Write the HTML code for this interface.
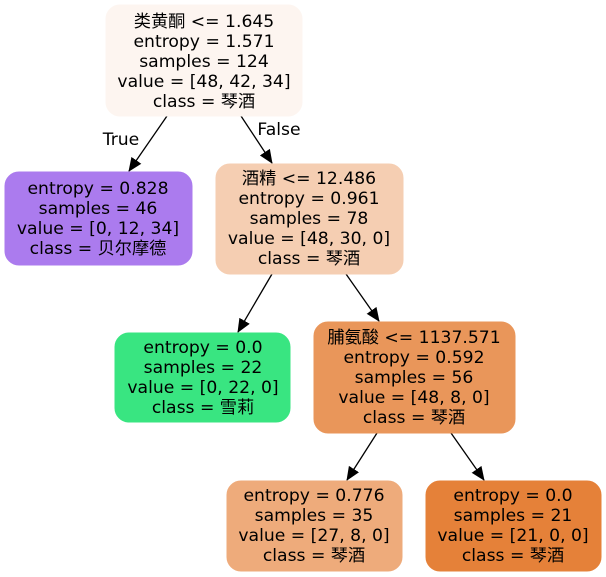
<!DOCTYPE html>
<html><head><meta charset="utf-8"><style>
html,body{margin:0;padding:0;background:#fff;width:606px;height:577px;overflow:hidden}
text{font-family:"DejaVu Sans","Noto Sans CJK SC",sans-serif;font-size:17.2px;fill:#000;text-anchor:middle}
</style></head><body>
<svg width="606" height="577" viewBox="0 0 606 577" xmlns="http://www.w3.org/2000/svg">
<defs><marker id="a" markerWidth="14" markerHeight="12" refX="13" refY="6" orient="auto" markerUnits="userSpaceOnUse"><path d="M0,0 L14,6 L0,12 z" fill="#000"/></marker></defs>
<g stroke="#000" stroke-width="1.3" fill="none">
<line x1="167" y1="116" x2="129" y2="171" marker-end="url(#a)"/>
<line x1="241" y1="116" x2="272" y2="163" marker-end="url(#a)"/>
<line x1="272" y1="274" x2="238" y2="332" marker-end="url(#a)"/>
<line x1="346" y1="274" x2="379" y2="321" marker-end="url(#a)"/>
<line x1="377" y1="433" x2="347" y2="480" marker-end="url(#a)"/>
<line x1="451" y1="433" x2="484" y2="480" marker-end="url(#a)"/>
</g>
<text x="121" y="145">True</text>
<text x="279" y="135">False</text>
<rect x="106" y="5" width="196" height="111" rx="14" fill="#fdf5f0" stroke="#fdf5f0"/>
<text x="204" y="27">类黄酮 &lt;= 1.645</text><text x="204" y="47">entropy = 1.571</text><text x="204" y="67">samples = 124</text><text x="204" y="87">value = [48, 42, 34]</text><text x="204" y="107">class = 琴酒</text>
<rect x="5" y="172" width="187" height="93" rx="14" fill="#ab7bee" stroke="#ab7bee"/>
<text x="98" y="194">entropy = 0.828</text><text x="98" y="214">samples = 46</text><text x="98" y="234">value = [0, 12, 34]</text><text x="98" y="254">class = 贝尔摩德</text>
<rect x="216" y="164" width="187" height="110" rx="14" fill="#f5ceb2" stroke="#f5ceb2"/>
<text x="309" y="184">酒精 &lt;= 12.486</text><text x="309" y="204">entropy = 0.961</text><text x="309" y="224">samples = 78</text><text x="309" y="244">value = [48, 30, 0]</text><text x="309" y="264">class = 琴酒</text>
<rect x="115" y="333" width="175" height="89" rx="14" fill="#39e581" stroke="#39e581"/>
<text x="203" y="353">entropy = 0.0</text><text x="203" y="373">samples = 22</text><text x="203" y="393">value = [0, 22, 0]</text><text x="203" y="413">class = 雪莉</text>
<rect x="314" y="322" width="201" height="111" rx="14" fill="#e9965a" stroke="#e9965a"/>
<text x="414" y="343">脯氨酸 &lt;= 1137.571</text><text x="414" y="363">entropy = 0.592</text><text x="414" y="383">samples = 56</text><text x="414" y="403">value = [48, 8, 0]</text><text x="414" y="423">class = 琴酒</text>
<rect x="227" y="481" width="175" height="90" rx="14" fill="#eeab7b" stroke="#eeab7b"/>
<text x="314" y="501">entropy = 0.776</text><text x="314" y="521">samples = 35</text><text x="314" y="541">value = [27, 8, 0]</text><text x="314" y="561">class = 琴酒</text>
<rect x="426" y="481" width="175" height="90" rx="14" fill="#e58139" stroke="#e58139"/>
<text x="513" y="501">entropy = 0.0</text><text x="513" y="521">samples = 21</text><text x="513" y="541">value = [21, 0, 0]</text><text x="513" y="561">class = 琴酒</text>
</svg>
</body></html>
